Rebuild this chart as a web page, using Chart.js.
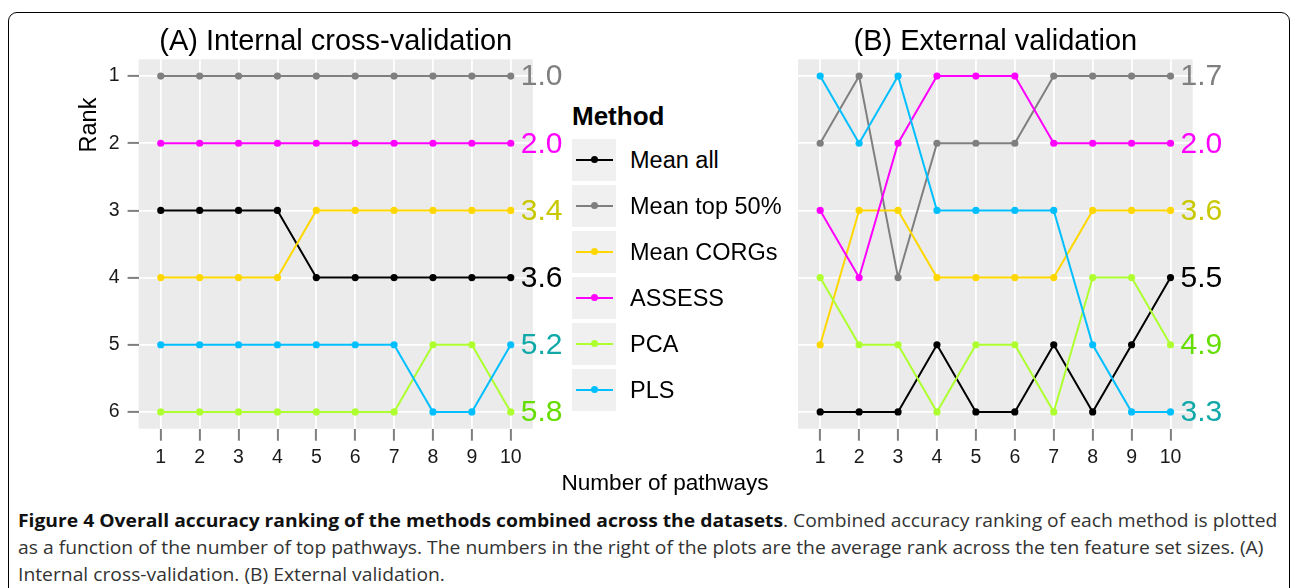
<!DOCTYPE html>
<html>
<head>
<meta charset="utf-8">
<script src="https://cdn.jsdelivr.net/npm/chart.js@4.4.0/dist/chart.umd.min.js"></script>
<style>
  body { margin: 0; background: #fff; width: 1292px; height: 588px; overflow: hidden; position: relative; font-family: "Liberation Sans", Arial, sans-serif; }
  .frame { position: absolute; left: 8px; top: 12px; width: 1280px; height: 700px; border: 1.5px solid #000; border-radius: 9px; }
  canvas { position: absolute; top: 0; }
  #chartA { left: 0; }
  #chartB { left: 760px; }
  .legend { position: absolute; left: 572px; top: 0; }
  .legend-title { position: absolute; left: 0; top: 101px; font-weight: bold; font-size: 26px; white-space: nowrap; }
  .key { position: absolute; left: 0; width: 44px; height: 42px; background: #f0f0f0; }
  .key .ln { position: absolute; left: 4px; width: 37px; top: 20px; height: 2px; }
  .key .pt { position: absolute; left: 19px; top: 17.5px; width: 7px; height: 7px; border-radius: 50%; }
  .key-label { position: absolute; left: 58px; font-size: 23.5px; white-space: nowrap; line-height: 28px; }
  .xtitle { position: absolute; left: 665px; top: 470px; transform: translateX(-50%); font-size: 22.6px; white-space: nowrap; }
  .caption { position: absolute; left: 18px; top: 507px; transform-origin: 0 0; color: #333; font-family: "Open Sans", sans-serif; font-size: 18px; }
  .caption div { white-space: nowrap; height: 27px; line-height: 27px; }
  .caption b { color: #111; }
</style>
</head>
<body>
<div class="frame"></div>
<canvas id="chartA" width="572" height="490"></canvas>
<canvas id="chartB" width="532" height="490"></canvas>
<div class="legend" id="legend"><div class="legend-title">Method</div></div>
<div class="xtitle">Number of pathways</div>
<div class="caption" id="caption">
  <div id="capLine1"><b>Figure 4 Overall accuracy ranking of the methods combined across the datasets</b>. Combined accuracy ranking of each method is plotted</div>
  <div>as a function of the number of top pathways. The numbers in the right of the plots are the average rank across the ten feature set sizes. (A)</div>
  <div>Internal cross-validation. (B) External validation.</div>
</div>
<script>
// nombre de pathways (axe x) et rangs (axe y)
const pathways = [1, 2, 3, 4, 5, 6, 7, 8, 9, 10];
const rankTicks = [1, 2, 3, 4, 5, 6];

const methods = ["Mean all", "Mean top 50%", "Mean CORGs", "ASSESS", "PCA", "PLS"];
const lineColors = ["#000000", "#7f7f7f", "#ffd700", "#ff00ff", "#adff2f", "#00bfff"];
const labelColors = ["#000000", "#7f7f7f", "#c8c800", "#ff00ff", "#66dd00", "#10a8a8"];

// (A) validation croisée interne
const meanAllA = [3, 3, 3, 3, 4, 4, 4, 4, 4, 4];
const meanTopA = [1, 1, 1, 1, 1, 1, 1, 1, 1, 1];
const corgsA = [4, 4, 4, 4, 3, 3, 3, 3, 3, 3];
const assessA = [2, 2, 2, 2, 2, 2, 2, 2, 2, 2];
const pcaA = [6, 6, 6, 6, 6, 6, 6, 5, 5, 6];
const plsA = [5, 5, 5, 5, 5, 5, 5, 6, 6, 5];

// (B) validation externe
const meanAllB = [6, 6, 6, 5, 6, 6, 5, 6, 5, 4];
const meanTopB = [2, 1, 4, 2, 2, 2, 1, 1, 1, 1];
const corgsB = [5, 3, 3, 4, 4, 4, 4, 3, 3, 3];
const assessB = [3, 4, 2, 1, 1, 1, 2, 2, 2, 2];
const pcaB = [4, 5, 5, 6, 5, 5, 6, 4, 4, 5];
const plsB = [1, 2, 1, 3, 3, 3, 3, 5, 6, 6];

const FONT = "'Liberation Sans', Arial, sans-serif";
Chart.defaults.font.family = FONT;
Chart.defaults.color = "#1a1a1a";

// fond gris du panneau + titre + moyennes à droite
const panelPlugin = {
  id: "panel",
  beforeDraw(chart) {
    const a = chart.chartArea;
    const ctx = chart.ctx;
    ctx.save();
    ctx.fillStyle = "#ebebeb";
    ctx.fillRect(a.left, a.top, a.right - a.left, a.bottom - a.top);
    ctx.restore();
  },
  afterDraw(chart, args, opts) {
    const a = chart.chartArea;
    const ctx = chart.ctx;
    ctx.save();
    ctx.fillStyle = "#000";
    ctx.font = "29px " + FONT;
    ctx.textAlign = "center";
    ctx.textBaseline = "alphabetic";
    ctx.fillText(opts.title, (a.left + a.right) / 2, 50);

    ctx.font = "30px " + FONT;
    ctx.textAlign = "left";
    ctx.textBaseline = "middle";
    chart.data.datasets.forEach((ds, i) => {
      const meta = chart.getDatasetMeta(i);
      const last = meta.data[meta.data.length - 1];
      const avg = ds.data.reduce((s, p) => s + p.y, 0) / ds.data.length;
      ctx.fillStyle = labelColors[i];
      ctx.fillText(avg.toFixed(1), last.x + 10, last.y + 1);
    });

    if (opts.yTitle) {
      ctx.fillStyle = "#000";
      ctx.font = "23.5px " + FONT;
      ctx.translate(90, 125);
      ctx.rotate(-Math.PI / 2);
      ctx.textAlign = "center";
      ctx.fillText(opts.yTitle, 0, 0);
    }
    ctx.restore();
  },
};

function makeChart(id, series, title, showY) {
  const ctx = document.getElementById(id).getContext("2d");
  return new Chart(ctx, {
    type: "line",
    data: {
      datasets: series.map((vals, i) => ({
        label: methods[i],
        data: vals.map((v, k) => ({ x: pathways[k], y: v })),
        borderColor: lineColors[i],
        backgroundColor: lineColors[i],
        pointBackgroundColor: lineColors[i],
        pointBorderWidth: 0,
        pointRadius: 3.6,
        borderWidth: 2,
        tension: 0,
        order: series.length - i,
      })),
    },
    options: {
      responsive: false,
      animation: false,
      devicePixelRatio: 1,
      layout: {
        padding: showY
          ? { top: 59.3, left: 0, right: 39.1, bottom: 1.3 }
          : { top: 59.3, left: 38, right: 99.3, bottom: 1.3 },
      },
      plugins: {
        legend: { display: false },
        tooltip: { enabled: false },
        panel: { title, yTitle: showY ? "Rank" : null },
      },
      scales: {
        x: {
          type: "linear",
          min: 0.43,
          max: 10.57,
          afterBuildTicks: (s) => {
            s.ticks = pathways.map((v) => ({ value: v }));
          },
          afterFit: (s) => {
            s.height = 60;
          },
          border: { display: false },
          grid: { color: "#ffffff", lineWidth: 1.8, tickColor: "#7f7f7f", tickLength: 12, tickWidth: 2 },
          ticks: { font: { size: 19.5 }, color: "#1a1a1a", padding: 5, maxRotation: 0, callback: (v) => String(v) },
        },
        y: {
          type: "linear",
          reverse: true,
          min: 0.75,
          max: 6.25,
          afterBuildTicks: (s) => {
            s.ticks = rankTicks.map((v) => ({ value: v }));
          },
          afterFit: (s) => {
            s.width = showY ? 138.6 : 0;
          },
          border: { display: false },
          grid: {
            color: "#ffffff",
            lineWidth: 1.8,
            tickColor: "#7f7f7f",
            tickLength: 11,
            tickWidth: 2,
            drawTicks: showY,
          },
          ticks: { display: showY, font: { size: 19.5 }, color: "#1a1a1a", padding: 8, callback: (v) => String(v) },
        },
      },
    },
    plugins: [panelPlugin],
  });
}

makeChart("chartA", [meanAllA, meanTopA, corgsA, assessA, pcaA, plsA], "(A) Internal cross-validation", true);
makeChart("chartB", [meanAllB, meanTopB, corgsB, assessB, pcaB, plsB], "(B) External validation", false);

// légende
const legend = document.getElementById("legend");
methods.forEach((m, i) => {
  const cy = 159.5 + i * 46;
  const key = document.createElement("div");
  key.className = "key";
  key.style.top = cy - 21 + "px";
  key.innerHTML = `<div class="ln" style="background:${lineColors[i]}"></div><div class="pt" style="background:${lineColors[i]}"></div>`;
  legend.appendChild(key);
  const lab = document.createElement("div");
  lab.className = "key-label";
  lab.style.top = cy - 14 + "px";
  lab.textContent = m;
  legend.appendChild(lab);
});

// légende de la figure : ajuster la largeur
const cap = document.getElementById("caption");
const line1 = document.getElementById("capLine1");
const w = line1.scrollWidth;
cap.style.transform = `scaleX(${1259 / w})`;
</script>
</body>
</html>
